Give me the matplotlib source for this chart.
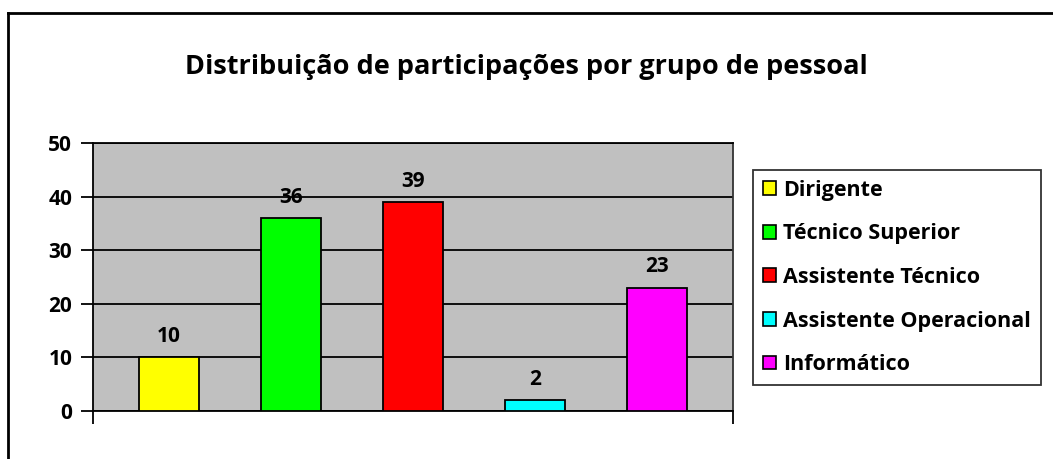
import matplotlib.pyplot as plt
from matplotlib.patches import Patch
from matplotlib.lines import Line2D

grupos = ['Dirigente', 'Técnico Superior', 'Assistente Técnico',
          'Assistente Operacional', 'Informático']
participacoes = [10, 36, 39, 2, 23]
cores = ['#ffff00', '#00ff00', '#ff0000', '#00ffff', '#ff00ff']
yticks = [0, 10, 20, 30, 40, 50]

plt.rcParams['font.family'] = ['Open Sans', 'DejaVu Sans']
plt.rcParams['font.weight'] = 'bold'

fig = plt.figure(figsize=(10.53, 4.59), dpi=100)
ax = fig.add_axes([93 / 1053, 1 - 411 / 459, 640 / 1053, 268 / 459])
ax.set_facecolor('#c0c0c0')

pos = list(range(len(grupos)))
bars = ax.bar(pos, participacoes, width=0.492, color=cores, edgecolor='black',
              linewidth=1.3, zorder=3)
for b, v in zip(bars, participacoes):
    ax.annotate(str(v), (b.get_x() + b.get_width() / 2, v), xytext=(0, 7.5),
                textcoords='offset points', ha='center', va='bottom',
                fontsize=15, fontweight='bold', zorder=4)

ax.set_xlim(-0.623, 4.623)
ax.set_ylim(0, 50)
ax.set_yticks(yticks)
ax.set_yticklabels([str(t) for t in yticks], fontsize=15, fontweight='bold')
ax.set_xticks([-0.623, 4.623])
ax.set_xticklabels(['', ''])
ax.tick_params(axis='y', length=9, width=1.3, pad=6)
ax.tick_params(axis='x', length=9, width=1.3, direction='out')
ax.yaxis.grid(True, color='black', linewidth=1.3, zorder=1)
for s in ax.spines.values():
    s.set_color('black')
    s.set_linewidth(1.3)
ax.spines['right'].set_color('#333333')

fig.text(0.5, 1 - 67 / 459, 'Distribuição de participações por grupo de pessoal',
         ha='center', va='center', fontsize=19.5, fontweight='bold')

handles = [Patch(facecolor=c, edgecolor='black', linewidth=1.2) for c in cores]
leg = fig.legend(handles, grupos, loc='upper left',
                 bbox_to_anchor=(753 / 1053, 1 - 170 / 459),
                 frameon=True, fancybox=False, edgecolor='black',
                 prop={'size': 15.5, 'weight': 'bold'},
                 handlelength=0.6, handleheight=0.6, handletextpad=0.35,
                 labelspacing=1.05, borderpad=0.45, borderaxespad=0)
leg.get_frame().set_linewidth(1.3)

# outer border (top and left only visible)
fig.add_artist(Line2D([8 / 1053, 8 / 1053], [0, 1 - 13 / 459], color='black', linewidth=2))
fig.add_artist(Line2D([8 / 1053, 1], [1 - 13 / 459, 1 - 13 / 459], color='black', linewidth=2))

fig.savefig('out.png', dpi=100)
